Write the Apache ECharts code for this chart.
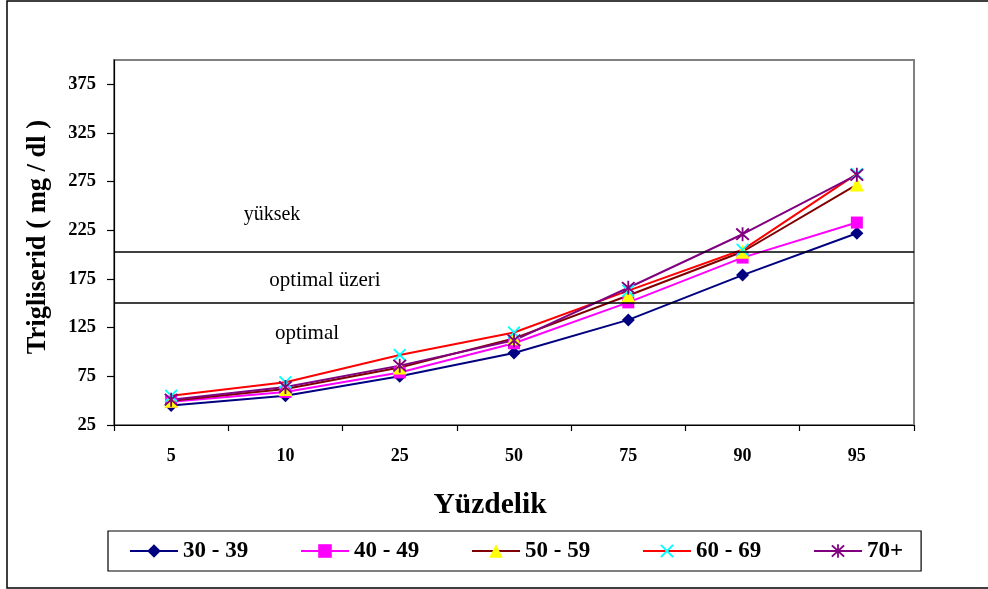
<!DOCTYPE html>
<html>
<head>
<meta charset="utf-8">
<script src="https://cdn.jsdelivr.net/npm/echarts@6/dist/echarts.min.js"></script>
<style>
  html, body { margin: 0; padding: 0; background: #fff; }
  #chart { width: 988px; height: 589px; }
</style>
</head>
<body>
<div id="chart"></div>
<script>
// Percentiles on the x axis
const categories = ['5', '10', '25', '50', '75', '90', '95'];

// Triglyceride (mg/dl) per age group
const age3039 = [45, 55, 75, 99, 133, 179, 222];
const age4049 = [49, 59, 79, 109, 151, 197, 233];
const age5059 = [50, 62, 84, 114, 158, 203, 272];
const age6069 = [55, 69, 97, 120, 163, 205, 283];
const age70 = [51, 64, 86, 112, 166, 221, 282];

const seriesNames = ['30 - 39', '40 - 49', '50 - 59', '60 - 69', '70+'];

// Y axis tick labels
const yTicks = [25, 75, 125, 175, 225, 275, 325, 375];

// Boundary lines between the bands (optimal / optimal üzeri / yüksek)
const thresholds = [203, 151];
const bandNames = ['yüksek', 'optimal üzeri', 'optimal'];

const SERIF = "'Liberation Serif', 'Times New Roman', serif";

// Marker shapes
const xMark = 'path://M0,1 L1,0 L10,9 L9,10 Z M9,0 L10,1 L1,10 L0,9 Z';
const starMark = 'path://M0,1 L1,0 L10,9 L9,10 Z M9,0 L10,1 L1,10 L0,9 Z M4.35,-0.5 L5.65,-0.5 L5.65,10.5 L4.35,10.5 Z';

function lineSeries(name, data, lineColor, symbol, symbolColor, size) {
  return {
    name: name,
    type: 'line',
    data: data,
    symbol: symbol,
    symbolSize: size,
    showAllSymbol: true,
    lineStyle: { color: lineColor, width: 2 },
    itemStyle: { color: symbolColor, borderWidth: 0 },
    emphasis: { disabled: true },
    animation: false
  };
}

const series = [
  lineSeries(seriesNames[0], age3039, '#000080', 'diamond', '#000080', 13),
  lineSeries(seriesNames[1], age4049, '#FF00FF', 'rect', '#FF00FF', 12),
  lineSeries(seriesNames[2], age5059, '#800000', 'triangle', '#FFFF00', 14),
  lineSeries(seriesNames[3], age6069, '#FF0000', xMark, '#00FFFF', 13),
  lineSeries(seriesNames[4], age70, '#800080', starMark, '#800080', 14)
];

// Horizontal band boundaries
series[0].markLine = {
  silent: true,
  symbol: 'none',
  label: { show: false },
  lineStyle: { color: '#000', width: 1.5, type: 'solid' },
  data: thresholds.map(v => ({ yAxis: v }))
};

const legendData = seriesNames.map((n, i) => {
  if (i < seriesNames.length - 1) return { name: n, textStyle: { width: 116 } };
  return { name: n };
});

const chart = echarts.init(document.getElementById('chart'), null, { renderer: 'canvas' });

chart.setOption({
  animation: false,
  backgroundColor: '#fff',
  grid: {
    left: 114, right: 74, top: 60, bottom: 164,
    show: true, borderColor: '#808080', borderWidth: 2, backgroundColor: 'transparent'
  },
  xAxis: {
    type: 'category',
    data: categories,
    boundaryGap: true,
    axisLine: { lineStyle: { color: '#000', width: 1.2 } },
    axisTick: { show: true, length: 6, lineStyle: { color: '#000', width: 1.2 } },
    axisLabel: {
      margin: 22,
      fontFamily: SERIF, fontWeight: 'bold', fontSize: 18, color: '#000'
    },
    splitLine: { show: false }
  },
  yAxis: {
    type: 'value',
    min: 25,
    max: 400,
    axisLine: { show: true, lineStyle: { color: '#000', width: 1.2 } },
    axisTick: { show: true, length: 7, customValues: yTicks, lineStyle: { color: '#000', width: 1.2 } },
    axisLabel: {
      customValues: yTicks,
      margin: 18,
      fontFamily: SERIF, fontWeight: 'bold', fontSize: 18.5, color: '#000'
    },
    splitLine: { show: false }
  },
  legend: {
    left: 108,
    top: 531,
    orient: 'horizontal',
    padding: [6, 18, 6, 21],
    itemGap: 1,
    itemWidth: 48,
    itemHeight: 17,
    borderColor: '#000',
    borderWidth: 1.2,
    backgroundColor: '#fff',
    selectedMode: false,
    textStyle: {
      fontFamily: SERIF, fontWeight: 'bold', fontSize: 23, color: '#000', lineHeight: 28
    },
    data: legendData
  },
  graphic: [
    {
      type: 'rect',
      silent: true,
      shape: { x: 7, y: 1, width: 1000, height: 587 },
      style: { fill: 'none', stroke: '#000', lineWidth: 1.5 },
      z: -1
    },
    {
      type: 'text',
      x: 38, y: 237,
      rotation: Math.PI / 2,
      style: {
        text: 'Trigliserid ( mg / dl )',
        font: 'bold 26.5px ' + SERIF,
        fill: '#000',
        align: 'center',
        verticalAlign: 'middle'
      }
    },
    {
      type: 'text',
      x: 490, y: 505,
      style: {
        text: 'Yüzdelik',
        font: 'bold 29.5px ' + SERIF,
        fill: '#000',
        align: 'center',
        verticalAlign: 'middle'
      }
    },
    {
      type: 'text',
      x: 272, y: 215,
      style: { text: bandNames[0], font: '20px ' + SERIF, fill: '#000', align: 'center', verticalAlign: 'middle' }
    },
    {
      type: 'text',
      x: 325, y: 280,
      style: { text: bandNames[1], font: '21px ' + SERIF, fill: '#000', align: 'center', verticalAlign: 'middle' }
    },
    {
      type: 'text',
      x: 307, y: 333,
      style: { text: bandNames[2], font: '21px ' + SERIF, fill: '#000', align: 'center', verticalAlign: 'middle' }
    }
  ],
  series: series
});
</script>
</body>
</html>
